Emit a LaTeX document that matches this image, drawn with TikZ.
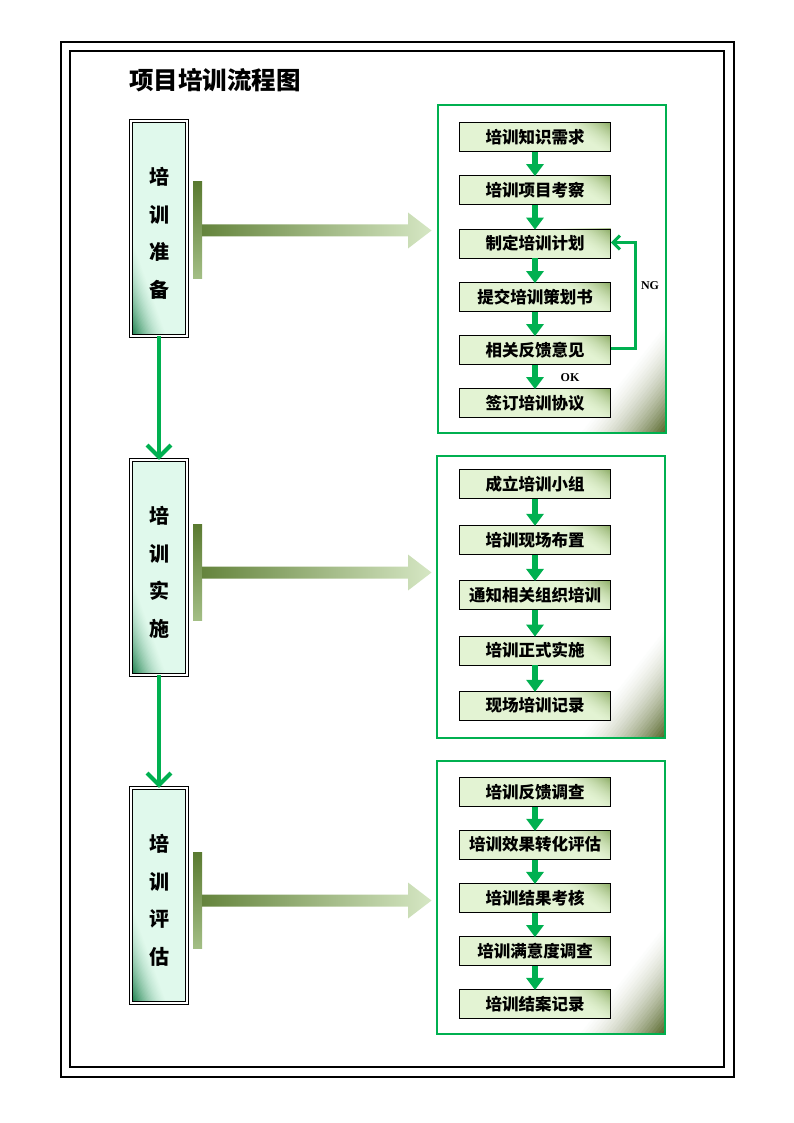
\documentclass[tikz,border=0pt]{standalone}
\usepackage{fontspec}
\newfontfamily\cjk{Noto Sans CJK SC}
\setmainfont{Liberation Serif}
\usetikzlibrary{arrows.meta,shadings}
\definecolor{flowgreen}{HTML}{00B050}
\definecolor{stepfill}{HTML}{E3F3D3}
\definecolor{stepdark}{HTML}{8FAE68}
\definecolor{mint}{HTML}{E0F9EC}
\definecolor{mintdark}{HTML}{137A45}
\definecolor{olivedark}{HTML}{5A7A30}
\definecolor{olivemid}{HTML}{A3BE85}
\definecolor{olivelight}{HTML}{D6E7C4}
\definecolor{cornerdark}{HTML}{5A6A2E}
% corner fade: #1 anchor, #2 horizontal leg, #3 vertical leg, #4 dark colour, #5 light colour
\newcommand\cornerfade[5]{%
  \foreach \i in {0,...,24}{%
    \pgfmathsetmacro{\cff}{1-\i/25}%
    \pgfmathsetmacro{\cpp}{100*(\i/24)*(0.35+0.65*\i/24)}%
    \fill[#4!\cpp!#5] ([xshift=#2*\cff]path picture bounding box.#1) -- ([yshift=#3*\cff]path picture bounding box.#1) -- (path picture bounding box.#1) -- cycle;}}
\tikzset{
  stepbox/.style={draw=black, line width=0.7pt, fill=stepfill,
    minimum width=151pt, minimum height=29pt, inner sep=0pt,
    font=\cjk\bfseries\fontsize{16.5}{18}\selectfont,
    path picture={\cornerfade{north east}{-50pt}{-34pt}{stepdark}{stepfill}}},
  phasebox/.style={draw=black, line width=0.9pt, double=white, double distance=2pt, fill=mint,
    minimum width=55.4pt, minimum height=214.4pt, inner sep=0pt,
    path picture={\cornerfade{south west}{36pt}{100pt}{mintdark}{mint}}},
  phasetext/.style={inner sep=0pt, align=center, font=\cjk\bfseries\fontsize{20}{37.5}\selectfont},
  panelbox/.style={draw=flowgreen, line width=2pt, inner sep=0pt,
    path picture={\cornerfade{south east}{-88pt}{112pt}{cornerdark}{white}}},
  steparrow/.style={draw=flowgreen, line width=6pt, -{Triangle[length=12pt,width=17pt]}, shorten >=-1pt},
  phasearrow/.style={draw=flowgreen, line width=4pt, -{Straight Barb[length=12pt,width=24pt,line width=4pt]}},
  loopline/.style={draw=flowgreen, line width=3pt, -{Straight Barb[length=7pt,width=14pt,line width=3pt]}},
  lbl/.style={font=\bfseries\fontsize{12}{14}\selectfont, inner sep=0pt},
}
\begin{document}
\begin{tikzpicture}[x=1pt,y=-1pt]
\useasboundingbox (0,0) rectangle (794,1123);
% frames
\draw[line width=2pt] (61,42) rectangle (734,1077);
\draw[line width=2pt] (70,51) rectangle (724,1067);
\node[font=\cjk\bfseries\fontsize{24.5}{26}\selectfont, anchor=west, inner sep=0pt] (title) at (129,80) {项目培训流程图};

% phase boxes
\node[phasebox] (p1) at (159,228.5) {};
\node[phasebox] (p2) at (159,567.5) {};
\node[phasebox] (p3) at (159,895.5) {};
\node[phasetext] (p1t) at ([yshift=-5pt]p1.center) {培\\训\\准\\备};
\node[phasetext] (p2t) at ([yshift=-5pt]p2.center) {培\\训\\实\\施};
\node[phasetext] (p3t) at ([yshift=-5pt]p3.center) {培\\训\\评\\估};
\draw[phasearrow] (p1.south) -- (p2.north);
\draw[phasearrow] (p2.south) -- (p3.north);

% bracket arrows
\foreach \c in {230.5,572.5,900.5}{
  \shade[top color=olivedark, bottom color=olivemid] (193,\c-48.5) rectangle (202,\c+47.5);
  \shade[left color=olivedark!85!olivemid, right color=olivelight]
    (202,\c-6) -- (408,\c-6) -- (408,\c-18) -- (431.5,\c) -- (408,\c+18) -- (408,\c+6) -- (202,\c+6) -- cycle;
}

% panels
\node[panelbox, minimum width=228pt, minimum height=328pt] (panA) at (551.5,269.3) {};
\node[panelbox, minimum width=228pt, minimum height=282pt] (panB) at (550.5,597.2) {};
\node[panelbox, minimum width=228pt, minimum height=273pt] (panC) at (551,897) {};

% panel 1 steps
\node[stepbox] (a1) at (535,137) {培训知识需求};
\node[stepbox] (a2) at (535,190) {培训项目考察};
\node[stepbox] (a3) at (535,243.5) {制定培训计划};
\node[stepbox] (a4) at (535,297) {提交培训策划书};
\node[stepbox] (a5) at (535,350) {相关反馈意见};
\node[stepbox] (a6) at (535,403) {签订培训协议};
\draw[steparrow] (a1) -- (a2);
\draw[steparrow] (a2) -- (a3);
\draw[steparrow] (a3) -- (a4);
\draw[steparrow] (a4) -- (a5);
\draw[steparrow] (a5) -- (a6);
\coordinate (ngb) at (635,348);
\coordinate (ngt) at (635,242.5);
\draw[loopline] ([yshift=2pt]a5.east) -- (ngb) -- (ngt) -- ([yshift=1pt]a3.east);
\node[lbl] (ng) at (650,285.5) {NG};
\node[lbl] (ok) at (570,377.5) {OK};

% panel 2 steps
\node[stepbox] (b1) at (535,483.8) {成立培训小组};
\node[stepbox] (b2) at (535,539.7) {培训现场布置};
\node[stepbox] (b3) at (535,594.8) {通知相关组织培训};
\node[stepbox] (b4) at (535,650.5) {培训正式实施};
\node[stepbox] (b5) at (535,705.7) {现场培训记录};
\draw[steparrow] (b1) -- (b2);
\draw[steparrow] (b2) -- (b3);
\draw[steparrow] (b3) -- (b4);
\draw[steparrow] (b4) -- (b5);

% panel 3 steps
\node[stepbox] (c1) at (535,792) {培训反馈调查};
\node[stepbox] (c2) at (535,844.7) {培训效果转化评估};
\node[stepbox] (c3) at (535,897.8) {培训结果考核};
\node[stepbox] (c4) at (535,951) {培训满意度调查};
\node[stepbox] (c5) at (535,1003.8) {培训结案记录};
\draw[steparrow] (c1) -- (c2);
\draw[steparrow] (c2) -- (c3);
\draw[steparrow] (c3) -- (c4);
\draw[steparrow] (c4) -- (c5);
\end{tikzpicture}
\end{document}
